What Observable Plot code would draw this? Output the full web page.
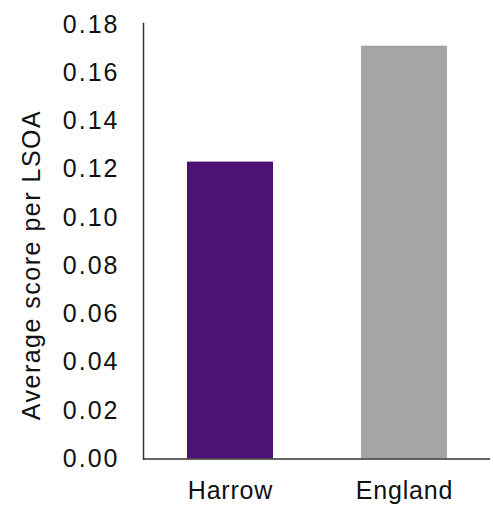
<!DOCTYPE html>
<html><head><meta charset="utf-8">
<script src="https://cdn.jsdelivr.net/npm/d3@7"></script>
<script src="https://cdn.jsdelivr.net/npm/@observablehq/plot@0.6"></script>
<style>body{margin:0;background:#fff}</style>
</head><body><div id="chart"></div>
<script>
const areas = ["Harrow", "England"];
const scores = [0.123, 0.171];
const barColors = ["#4e1275", "#a5a5a5"];
const yTicks = [0, 0.02, 0.04, 0.06, 0.08, 0.10, 0.12, 0.14, 0.16, 0.18];
const yLabel = "Average score per LSOA";

const data = areas.map((a, i) => ({area: a, score: scores[i]}));

const chart = Plot.plot({
  width: 493, height: 506,
  marginLeft: 143, marginRight: 3, marginTop: 23, marginBottom: 47.5,
  style: {fontFamily: "'Liberation Sans', Arial, sans-serif", fontSize: "25px", color: "#111", background: "#fff"},
  x: {domain: areas, paddingInner: 0.507, paddingOuter: 0.2475, label: null},
  y: {domain: [0, 0.18], insetTop: 1, label: null},
  color: {domain: areas, range: barColors},
  marks: [
    Plot.barY(data, {x: "area", y: "score", fill: "area"}),
    Plot.axisY({ticks: yTicks, tickSize: 0, tickPadding: 24, tickFormat: d3.format(".2f"), label: null}),
    Plot.axisX({tickSize: 0, tickPadding: 22, label: null}),
    Plot.ruleY([0], {stroke: "#333", strokeWidth: 1.5}),
    Plot.frame({anchor: "left", stroke: "#333", strokeWidth: 1.5})
  ]
});
document.getElementById("chart").appendChild(chart);
const svg = d3.select(chart);
svg.selectAll('g[aria-label="y-axis tick label"] text').style("letter-spacing", "2px");
svg.selectAll('g[aria-label="x-axis tick label"] text').style("letter-spacing", "0.8px");
svg.append("text")
  .attr("transform", "translate(33,265) rotate(-90)")
  .attr("text-anchor", "middle")
  .attr("dominant-baseline", "middle")
  .style("font-size", "25px")
  .style("letter-spacing", "1.5px")
  .attr("fill", "#111")
  .text(yLabel);
</script>
</body></html>
